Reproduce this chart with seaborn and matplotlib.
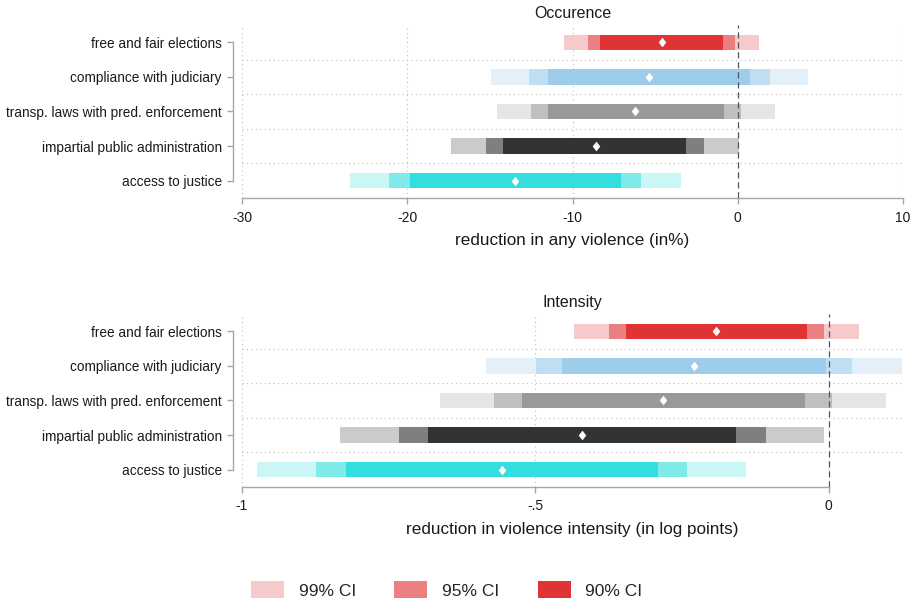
import matplotlib
matplotlib.use("Agg")
import matplotlib.pyplot as plt
from matplotlib.patches import Patch
import seaborn as sns
import pandas as pd

sns.set_theme(style="white")
plt.rcParams["font.family"] = ["Liberation Sans", "DejaVu Sans"]

categories = ["free and fair elections", "compliance with judiciary",
              "transp. laws with pred. enforcement",
              "impartial public administration", "access to justice"]

# Occurrence: reduction in any violence (in %)
occ_point = [-4.6, -5.4, -6.2, -8.6, -13.5]
occ_lo90 = [-8.35, -11.47, -11.47, -14.19, -19.84]
occ_hi90 = [-0.87, 0.77, -0.82, -3.12, -7.08]
occ_lo95 = [-9.04, -12.63, -12.52, -15.24, -21.08]
occ_hi95 = [-0.16, 1.93, 0.21, -2.03, -5.87]
occ_lo99 = [-10.49, -14.95, -14.56, -17.36, -23.49]
occ_hi99 = [1.27, 4.28, 2.27, 0.05, -3.43]

# Intensity: reduction in violence intensity (in log points)
int_point = [-0.191, -0.230, -0.282, -0.420, -0.557]
int_lo90 = [-0.346, -0.455, -0.523, -0.683, -0.822]
int_hi90 = [-0.036, -0.004, -0.040, -0.158, -0.291]
int_lo95 = [-0.375, -0.499, -0.570, -0.733, -0.874]
int_hi95 = [-0.007, 0.040, 0.006, -0.107, -0.241]
int_lo99 = [-0.434, -0.584, -0.662, -0.833, -0.975]
int_hi99 = [0.052, 0.126, 0.098, -0.007, -0.140]

# shades per category: (99%, 95%, 90%)
shades = [
    ("#F6CACB", "#EB8080", "#E03334"),
    ("#E3F0FA", "#C0DEF2", "#9DCDEB"),
    ("#E5E5E5", "#BFBFBF", "#999999"),
    ("#CBCBCB", "#7F7F7F", "#333333"),
    ("#CAF6F6", "#80EAEA", "#33DEDE"),
]

AX_GREY = "#A6A6A6"
GRID = "#BDBDBD"
TXT = "#1A1A1A"
DIAMOND = [(0, 1), (0.78, 0), (0, -1), (-0.78, 0), (0, 1)]


def panel(ax, title, xlabel, point, lo90, hi90, lo95, hi95, lo99, hi99,
          xlim, ticks, ticklabels, span):
    ypos = list(range(len(categories)))
    h = 0.44
    for i in ypos:
        c99, c95, c90 = shades[i]
        ax.barh(i, hi99[i] - lo99[i], left=lo99[i], height=h, color=c99,
                edgecolor="none", zorder=2)
        ax.barh(i, hi95[i] - lo95[i], left=lo95[i], height=h, color=c95,
                edgecolor="none", zorder=3)
        ax.barh(i, hi90[i] - lo90[i], left=lo90[i], height=h, color=c90,
                edgecolor="none", zorder=4)
    df = pd.DataFrame({"est": point, "pos": ypos})
    sns.scatterplot(data=df, x="est", y="pos", marker=DIAMOND, s=42,
                    color="white", edgecolor="white", linewidth=0.3,
                    ax=ax, zorder=6, legend=False)

    for t in ticks:
        if t != 0:
            ax.axvline(t, color=GRID, lw=0.8, ls=(0, (1, 3)), zorder=1)
    for yy in [0.5, 1.5, 2.5, 3.5]:
        ax.axhline(yy, color=GRID, lw=0.8, ls=(0, (1, 3)), zorder=1)
    ax.axvline(0, color="#555555", lw=0.9, ls=(0, (5, 3)), zorder=5)

    ax.set_xlim(*xlim)
    ax.set_ylim(4.5, -0.5)
    ax.set_yticks(ypos)
    ax.set_yticklabels(categories)
    ax.set_xticks(ticks)
    ax.set_xticklabels(ticklabels)
    ax.set_title(title, fontsize=11.5, pad=5, color=TXT)
    ax.set_xlabel(xlabel, fontsize=12.3, labelpad=6, color=TXT)
    ax.set_ylabel("")

    for s in ["top", "right"]:
        ax.spines[s].set_visible(False)
    ax.spines["left"].set_position(("outward", 6.5))
    ax.spines["left"].set_bounds(0, 4)
    ax.spines["bottom"].set_bounds(*span)
    for s in ["left", "bottom"]:
        ax.spines[s].set_color(AX_GREY)
        ax.spines[s].set_linewidth(1.0)
    ax.tick_params(axis="both", which="major", length=4, width=1.0,
                   color=AX_GREY, labelcolor=TXT, left=True, bottom=True)
    ax.tick_params(axis="x", pad=5, labelsize=10)
    ax.tick_params(axis="y", pad=4, labelsize=9.85)


fig = plt.figure(figsize=(9.1, 6.05), dpi=100)
left = 242 / 910
width = (903 - 242) / 910
height = (198 - 25) / 605
ax1 = fig.add_axes([left, 1 - 198 / 605, width, height])
ax2 = fig.add_axes([left, 1 - 487 / 605, width, height])

panel(ax1, "Occurence", "reduction in any violence (in%)",
      occ_point, occ_lo90, occ_hi90, occ_lo95, occ_hi95, occ_lo99, occ_hi99,
      (-30, 10), [-30, -20, -10, 0, 10], ["-30", "-20", "-10", "0", "10"],
      (-30, 10))
panel(ax2, "Intensity", "reduction in violence intensity (in log points)",
      int_point, int_lo90, int_hi90, int_lo95, int_hi95, int_lo99, int_hi99,
      (-1, 0.127), [-1, -0.5, 0], ["-1", "-.5", "0"], (-1, 0))

handles = [Patch(facecolor=c, edgecolor="none") for c in shades[0]]
fig.legend(handles, ["99% CI", "95% CI", "90% CI"], loc="center",
           bbox_to_anchor=(0.491, 1 - 590 / 605), ncol=3, frameon=False,
           fontsize=12.5, handlelength=1.9, handleheight=1.15,
           handletextpad=0.85, columnspacing=2.2)

fig.savefig("out.png", dpi=100, facecolor="white")
